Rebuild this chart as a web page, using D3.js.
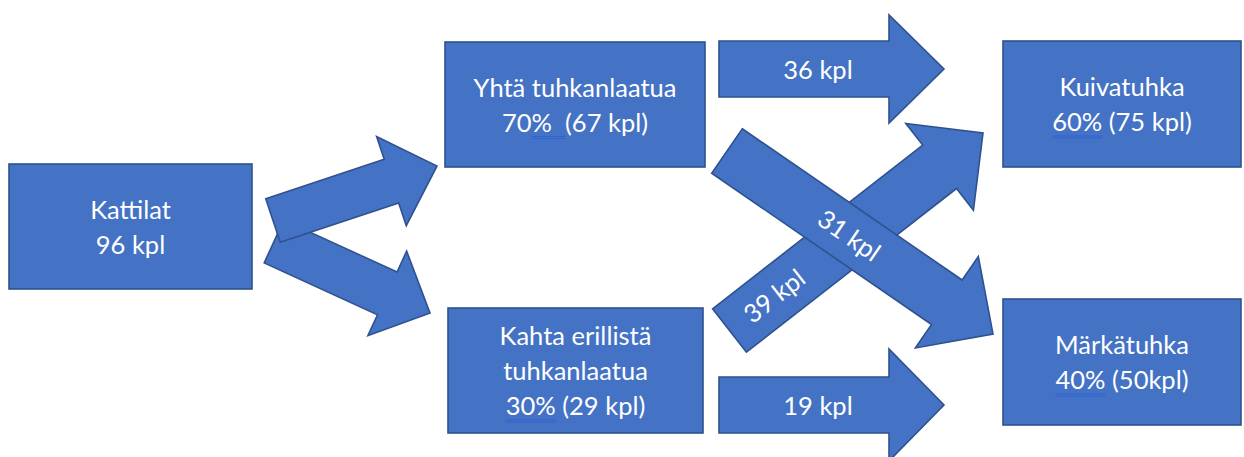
<!DOCTYPE html>
<html>
<head>
<meta charset="utf-8">
<script src="https://cdn.jsdelivr.net/npm/d3@7/dist/d3.min.js"></script>
<style>
  html, body { margin: 0; padding: 0; background: #ffffff; }
  svg { display: block; }
  text { font-family: Lato, "Open Sans", sans-serif; fill: #ffffff; white-space: pre; }
</style>
</head>
<body>
<svg id="chart" width="1244" height="457"></svg>
<script>
// ---- data ----
const nodeIds = ["kattilat", "yksi", "kaksi", "kuiva", "marka"];
const nodeLines = [
  ["Kattilat", "96 kpl"],
  ["Yhtä tuhkanlaatua", "70%  (67 kpl)"],
  ["Kahta erillistä", "tuhkanlaatua", "30% (29 kpl)"],
  ["Kuivatuhka", "60% (75 kpl)"],
  ["Märkätuhka", "40% (50kpl)"]
];
// proofing underline marks [line index, start char, end char]
const nodeMarks = [null, [1, 2, 5], [2, 0, 3], [1, 0, 3], [1, 0, 3]];
const flowSources = ["kattilat", "kattilat", "yksi", "kaksi", "yksi", "kaksi"];
const flowTargets = ["yksi", "kaksi", "kuiva", "kuiva", "marka", "marka"];
const flowLabels = ["", "", "36 kpl", "39 kpl", "31 kpl", "19 kpl"];

// ---- layout (positions in px) ----
const boxes = {
  kattilat: {x0: 9,    y0: 164, x1: 252,  y1: 289},
  yksi:     {x0: 445,  y0: 42,  x1: 705,  y1: 167},
  kaksi:    {x0: 448,  y0: 308, x1: 703,  y1: 433},
  kuiva:    {x0: 1003, y0: 41,  x1: 1241, y1: 167},
  marka:    {x0: 1003, y0: 299, x1: 1241, y1: 425}
};
// arrow geometry: tail centre, tip, shaft width, head width, head length, label position t
const arrowGeom = {
  "kattilat-yksi":  {tail: [273, 220.5], tip: [437, 166], w: 46, hw: 94,  hl: 48, t: 0.5},
  "kattilat-kaksi": {tail: [274, 241.5], tip: [430, 313], w: 47, hw: 93,  hl: 47, t: 0.5},
  "yksi-kuiva":     {tail: [719, 69],    tip: [944, 69],  w: 56, hw: 108, hl: 55, t: 0.44},
  "kaksi-kuiva":    {tail: [729.5, 330.5], tip: [983, 133], w: 55, hw: 110, hl: 55, t: 0.176},
  "yksi-marka":     {tail: [727, 151],  tip: [993, 334], w: 54, hw: 111, hl: 56, t: 0.46},
  "kaksi-marka":    {tail: [719, 405],  tip: [944, 405], w: 56, hw: 112, hl: 55, t: 0.44}
};
// drawing order (later on top)
const drawOrder = ["kattilat-kaksi", "kattilat-yksi", "yksi-kuiva", "kaksi-marka", "kaksi-kuiva", "yksi-marka"];

const FILL = "#4472C4", STROKE = "#2F528F", FONT = 25.5, LINE_H = 35, BASE = 9.5;

const svg = d3.select("#chart");

// ---- boxes ----
const nodes = nodeIds.map((id, i) => ({id, lines: nodeLines[i], mark: nodeMarks[i], ...boxes[id]}));

const gBoxes = svg.append("g");
const ng = gBoxes.selectAll("g.node").data(nodes).join("g").attr("class", "node");
ng.append("rect")
  .attr("x", d => d.x0).attr("y", d => d.y0)
  .attr("width", d => d.x1 - d.x0).attr("height", d => d.y1 - d.y0)
  .attr("fill", FILL).attr("stroke", STROKE).attr("stroke-width", 1.6);

ng.each(function(d) {
  const g = d3.select(this);
  const cx = (d.x0 + d.x1) / 2, cy = (d.y0 + d.y1) / 2;
  const n = d.lines.length;
  const texts = d.lines.map((ln, k) => g.append("text")
    .attr("x", cx)
    .attr("y", cy + (k - (n - 1) / 2) * LINE_H + BASE)
    .attr("text-anchor", "middle")
    .attr("font-size", FONT)
    .text(ln));
  if (d.mark) {
    const [li, s, e] = d.mark;
    const tn = texts[li].node();
    const total = tn.getComputedTextLength();
    const startX = cx - total / 2 + (s > 0 ? tn.getSubStringLength(0, s) : 0);
    const len = tn.getSubStringLength(s, e - s);
    const baseY = cy + (li - (n - 1) / 2) * LINE_H + BASE;
    [5, 7].forEach(off => g.append("line")
      .attr("x1", startX).attr("x2", startX + len)
      .attr("y1", baseY + off).attr("y2", baseY + off)
      .attr("stroke", "#2e64d6").attr("stroke-width", 1));
  }
});

// ---- arrows ----
const flows = flowSources.map((s, i) => ({key: s + "-" + flowTargets[i], label: flowLabels[i]}))
  .map(f => ({...f, ...arrowGeom[f.key]}));
flows.sort((a, b) => drawOrder.indexOf(a.key) - drawOrder.indexOf(b.key));

function arrowPoints(f) {
  const [x0, y0] = f.tail, [x1, y1] = f.tip;
  const L = Math.hypot(x1 - x0, y1 - y0);
  const ux = (x1 - x0) / L, uy = (y1 - y0) / L;
  const nx = -uy, ny = ux;
  const hb = L - f.hl;
  const local = [
    [0, -f.w / 2], [hb, -f.w / 2], [hb, -f.hw / 2], [L, 0],
    [hb, f.hw / 2], [hb, f.w / 2], [0, f.w / 2]
  ];
  return local.map(([a, b]) => [x0 + ux * a + nx * b, y0 + uy * a + ny * b]);
}
const line = d3.line().curve(d3.curveLinearClosed);

const gArrows = svg.append("g");
const ag = gArrows.selectAll("g.flow").data(flows).join("g").attr("class", "flow");
ag.append("path")
  .attr("d", d => line(arrowPoints(d)))
  .attr("fill", FILL).attr("stroke", STROKE).attr("stroke-width", 1.6)
  .attr("stroke-linejoin", "miter");
ag.filter(d => d.label).append("text")
  .attr("transform", d => {
    const [x0, y0] = d.tail, [x1, y1] = d.tip;
    const px = x0 + (x1 - x0) * d.t, py = y0 + (y1 - y0) * d.t;
    const ang = Math.atan2(y1 - y0, x1 - x0) * 180 / Math.PI;
    return `translate(${px},${py}) rotate(${ang})`;
  })
  .attr("y", BASE)
  .attr("text-anchor", "middle")
  .attr("font-size", FONT)
  .text(d => d.label);
</script>
</body>
</html>
